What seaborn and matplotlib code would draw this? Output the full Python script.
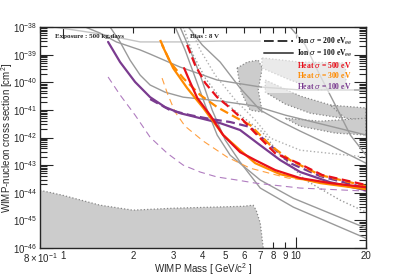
import numpy as np
import seaborn as sns
import matplotlib
matplotlib.use("Agg")
import matplotlib.pyplot as plt
from matplotlib.lines import Line2D
from matplotlib.ticker import LogLocator, NullFormatter

# --- projected limits (mass in GeV/c^2, log10 of cross section in cm^2) ---
red_dash_m = [3.42, 3.70, 4.09, 4.60, 5.23, 5.77, 6.70, 8.16, 10.25, 13.0, 20]
red_dash_s = [-38.65, -39.38, -40.03, -40.54, -40.93, -41.26, -41.84, -42.57, -42.93, -43.36, -43.72]
red_solid_m = [3.32, 3.52, 3.78, 4.29, 4.88, 5.77, 6.70, 8.16, 10.45, 14.05, 20]
red_solid_s = [-39.49, -39.99, -40.57, -41.19, -41.91, -42.53, -42.82, -43.18, -43.47, -43.65, -43.80]
orange_dash_m = [2.62, 2.89, 3.29, 3.89, 4.60, 5.60, 6.37, 7.77, 9.46, 12.73, 20]
orange_dash_s = [-38.47, -39.27, -39.85, -40.46, -40.90, -41.30, -41.55, -42.28, -42.82, -43.36, -43.76]
orange_solid_m = [2.67, 2.98, 3.42, 4.01, 4.88, 5.77, 6.70, 8.58, 12.73, 20]
orange_solid_s = [-38.65, -39.49, -40.21, -40.93, -41.91, -42.46, -42.93, -43.33, -43.65, -43.87]
orange_thin_m = [2.67, 2.83, 3.04, 3.35, 4.01, 5.08, 6.37, 9.28, 20]
orange_thin_s = [-39.85, -40.46, -41.08, -41.59, -42.13, -42.71, -43.11, -43.47, -43.80]
purple_solid_m = [1.567, 1.764, 2.046, 2.373, 2.751, 3.19, 3.89, 4.74, 5.77, 7.04, 8.58, 10.45, 14.05, 20]
purple_solid_s = [-38.54, -39.27, -39.99, -40.54, -40.90, -41.12, -41.30, -41.48, -41.73, -42.28, -42.82, -43.25, -43.62, -43.91]
purple_dash_m = [2.373, 2.891, 3.523, 4.293, 5.231, 6.374, 7.766, 9.464, 12.73, 20]
purple_dash_s = [-40.61, -41.01, -41.19, -41.33, -41.44, -41.62, -42.28, -42.93, -43.40, -43.83]
purple_thin_m = [1.567, 1.764, 2.046, 2.373, 2.81, 3.29, 3.889, 4.60, 5.60, 6.70, 10.45, 20]
purple_thin_s = [-39.81, -40.46, -41.19, -41.99, -42.57, -43.0, -43.25, -43.43, -43.54, -43.65, -43.83, -43.94]

# --- other experiments (gray) ---
gray_light_m = [0.8, 0.99, 1.447, 2.15, 3.19, 4.74, 7.04]
gray_light_s = [-37.93, -38.04, -38.25, -38.54, -38.54, -38.51, -38.51]
gray_e_m = [1.25, 1.447, 1.70, 2.15, 2.373, 3.19, 4.60, 7.04, 10.45, 20]
gray_e_s = [-38.0, -38.22, -38.54, -38.83, -38.98, -39.45, -39.92, -40.17, -40.28, -40.28]
gray_f_m = [1.598, 1.764, 1.947, 2.15, 2.373, 2.751, 3.29, 4.74, 6.70, 9.01, 20]
gray_f_s = [-38.0, -38.54, -39.20, -39.74, -40.10, -40.36, -40.54, -40.68, -40.86, -41.19, -41.91]
gray_g_m = [3.46, 3.97, 4.74, 5.77, 7.04, 8.58, 10.45, 14.05, 20]
gray_g_s = [-38.0, -38.65, -39.27, -40.21, -41.01, -41.41, -41.77, -42.28, -42.93]
gray_c_m = [3.04, 3.35, 3.63, 4.09, 4.60, 5.23, 7.04, 9.76, 20]
gray_c_s = [-38.0, -38.83, -39.63, -40.83, -41.91, -42.64, -43.54, -44.2, -45.28]
gray_d_m = [3.19, 3.52, 3.89, 4.38, 4.98, 5.77, 7.04, 9.76, 20]
gray_d_s = [-38.0, -38.83, -39.74, -41.01, -42.09, -42.89, -43.83, -44.52, -45.65]
gray_h_m = [9.46, 10.98, 12.49, 14.78, 17.13, 20]
gray_h_s = [-38.0, -38.65, -39.63, -40.83, -41.91, -42.64]
dot_1_m = [3.29, 3.63, 4.09, 4.74, 5.77, 7.18, 8.58, 10.98, 15.52, 20]
dot_1_s = [-38.0, -39.01, -39.85, -40.57, -41.19, -41.80, -42.64, -43.54, -44.27, -44.70]
dot_2_m = [3.52, 3.89, 4.51, 5.50, 6.70, 7.77, 10.45, 20]
dot_2_s = [-38.0, -38.83, -39.74, -40.64, -41.37, -42.02, -42.46, -42.71]

# --- shaded regions ---
bottom_m = [0.8, 1.0, 1.447, 2.0, 2.98, 4.46, 5.95, 6.56, 6.76, 7.04, 7.25]
bottom_s = [-43.91, -44.09, -44.45, -44.63, -44.56, -44.52, -44.49, -44.45, -44.63, -45.10, -46.0]
region_a1_m = [5.60, 6.19, 6.90, 7.18, 6.90, 7.18, 6.37, 5.83]
region_a1_s = [-39.49, -39.27, -39.20, -39.49, -40.28, -41.08, -41.01, -40.36]
region_a2_m = [7.18, 10.45, 16.3, 16.46, 12.49, 9.46, 7.18]
region_a2_s = [-39.12, -39.27, -39.30, -40.21, -40.28, -39.92, -39.49]
region_b_m = [7.40, 10.45, 15.52, 15.83, 11.53, 9.01, 7.40]
region_b_s = [-39.92, -40.50, -40.93, -41.30, -41.12, -40.79, -40.36]
region_c_m = [14.05, 20, 20, 16.3]
region_c_s = [-40.83, -40.93, -41.37, -41.30]
region_d_m = [9.01, 12.73, 20, 20, 14.78, 10.45]
region_d_s = [-41.30, -41.41, -41.30, -41.91, -41.84, -41.59]

xtick_pos = [0.8, 2, 3, 4, 5, 6, 7, 8, 9, 20]
xtick_lab = [r"$8\times10^{-1}$", "2", "3", "4", "5", "6", "7", "8", "9", "20"]

RED, ORANGE, PURPLE = "#e8101a", "#ff8a00", "#7a3b8f"
GRAY = "#9a9a9a"

sns.set_style("ticks")
plt.rcParams["font.family"] = ["Liberation Sans", "DejaVu Sans"]
plt.rcParams["mathtext.fontset"] = "custom"
plt.rcParams["mathtext.rm"] = "Liberation Sans"
plt.rcParams["mathtext.it"] = "Liberation Sans:italic"
plt.rcParams["mathtext.bf"] = "Liberation Sans:bold"

fig = plt.figure(figsize=(4.07, 2.77), dpi=100)
ax = fig.add_axes([40 / 407, 1 - 248 / 277, 326 / 407, 221 / 277])
ax.set_xscale("log")
ax.set_yscale("log")

# shaded regions
for m, s in [(region_a1_m, region_a1_s), (region_a2_m, region_a2_s), (region_b_m, region_b_s),
             (region_c_m, region_c_s), (region_d_m, region_d_s)]:
    ax.fill(m, 10.0 ** np.array(s), facecolor="#cccccc", edgecolor="#888888",
            linestyle=":", linewidth=0.9, zorder=1)
ax.fill_between(bottom_m, 10.0 ** np.array(bottom_s), 1e-47, facecolor="#cccccc",
                edgecolor="none", zorder=1)
ax.plot(bottom_m, 10.0 ** np.array(bottom_s), color="#888888", linestyle=":", linewidth=0.9, zorder=1)


def draw(m, s, color, lw, ls="-", z=2):
    sns.lineplot(x=m, y=10.0 ** np.array(s), ax=ax, color=color, linewidth=lw,
                 linestyle=ls, sort=False, estimator=None, zorder=z)


draw(gray_light_m, gray_light_s, "#c4c4c4", 1.0)
for m, s in [(gray_e_m, gray_e_s), (gray_f_m, gray_f_s), (gray_g_m, gray_g_s),
             (gray_c_m, gray_c_s), (gray_d_m, gray_d_s), (gray_h_m, gray_h_s)]:
    draw(m, s, GRAY, 1.0)
draw(dot_1_m, dot_1_s, GRAY, 1.0, ":")
draw(dot_2_m, dot_2_s, "#b0b0b0", 1.0, ":")

dash = (0, (4, 2))
thin = (0, (6, 4))
draw(purple_thin_m, purple_thin_s, "#b07cc0", 0.8, thin, 3)
draw(orange_thin_m, orange_thin_s, "#ffa040", 0.8, thin, 3)
draw(purple_solid_m, purple_solid_s, PURPLE, 1.6, "-", 4)
draw(purple_dash_m, purple_dash_s, PURPLE, 1.6, dash, 4)
draw(orange_solid_m, orange_solid_s, ORANGE, 1.6, "-", 4)
draw(orange_dash_m, orange_dash_s, ORANGE, 1.6, dash, 4)
draw(red_solid_m, red_solid_s, RED, 1.6, "-", 5)
draw(red_dash_m, red_dash_s, RED, 1.6, dash, 5)

ax.set_xlim(0.8, 20)
ax.set_ylim(1e-46, 1e-38)

# ticks
ax.set_xticks([1, 10], labels=["1", "10"])
ax.set_xticks(xtick_pos, labels=xtick_lab, minor=True)
ax.yaxis.set_major_locator(LogLocator(base=10, numticks=20))
ax.yaxis.set_minor_locator(LogLocator(base=10, subs=np.arange(2, 10), numticks=20))
ax.yaxis.set_minor_formatter(NullFormatter())
ax.tick_params(which="both", direction="in", top=True, right=True, labelsize=7, width=0.8)
ax.tick_params(axis="y", which="major", length=9, pad=2)
ax.tick_params(axis="y", which="minor", length=5)
ax.tick_params(axis="x", which="major", length=8, pad=2)
ax.tick_params(axis="x", which="minor", length=4, pad=2, labelsize=7)
for sp in ax.spines.values():
    sp.set_linewidth(1.0)
    sp.set_zorder(10)

ax.set_xlabel("WIMP Mass [ GeV/c$^2$ ]", fontsize=7)
ax.xaxis.set_label_coords(0.5, -0.06)
ax.set_ylabel("WIMP-nucleon cross section [cm$^2$]", fontsize=7)
ax.yaxis.set_label_coords(-0.078, 0.5)

ax.text(0.045, 0.955, "Exposure : 500 kg.days", transform=ax.transAxes, fontsize=5,
        fontweight="bold", family="Liberation Serif", va="center", zorder=6)
ax.text(0.46, 0.955, "Bias : 8 V", transform=ax.transAxes, fontsize=5,
        fontweight="bold", family="Liberation Serif", va="center", zorder=6)

handles = [Line2D([], [], color="#333333", lw=1.4, linestyle=(0, (5, 2))),
           Line2D([], [], color="#555555", lw=1.4),
           Line2D([], [], color="none"),
           Line2D([], [], color="none"),
           Line2D([], [], color="none")]
labels = [r"Ion $\sigma$ = 200 eV$_{ee}$", r"Ion $\sigma$ = 100 eV$_{ee}$",
          r"Heat $\sigma$ = 500 eV", r"Heat $\sigma$ = 300 eV", r"Heat $\sigma$ = 100 eV"]
leg = ax.legend(handles, labels, loc="upper left", bbox_to_anchor=(0.67, 0.985),
                prop={"family": "Liberation Serif", "weight": "bold", "size": 5.5},
                labelcolor=["#111111", "#111111", RED, ORANGE, PURPLE],
                frameon=True, framealpha=0.6, edgecolor="none", handlelength=3.8,
                borderpad=0.2, labelspacing=0.1, handletextpad=0.5)
leg.get_frame().set_boxstyle("square", pad=0)
leg.set_zorder(7)

fig.savefig("out.png", dpi=100)
